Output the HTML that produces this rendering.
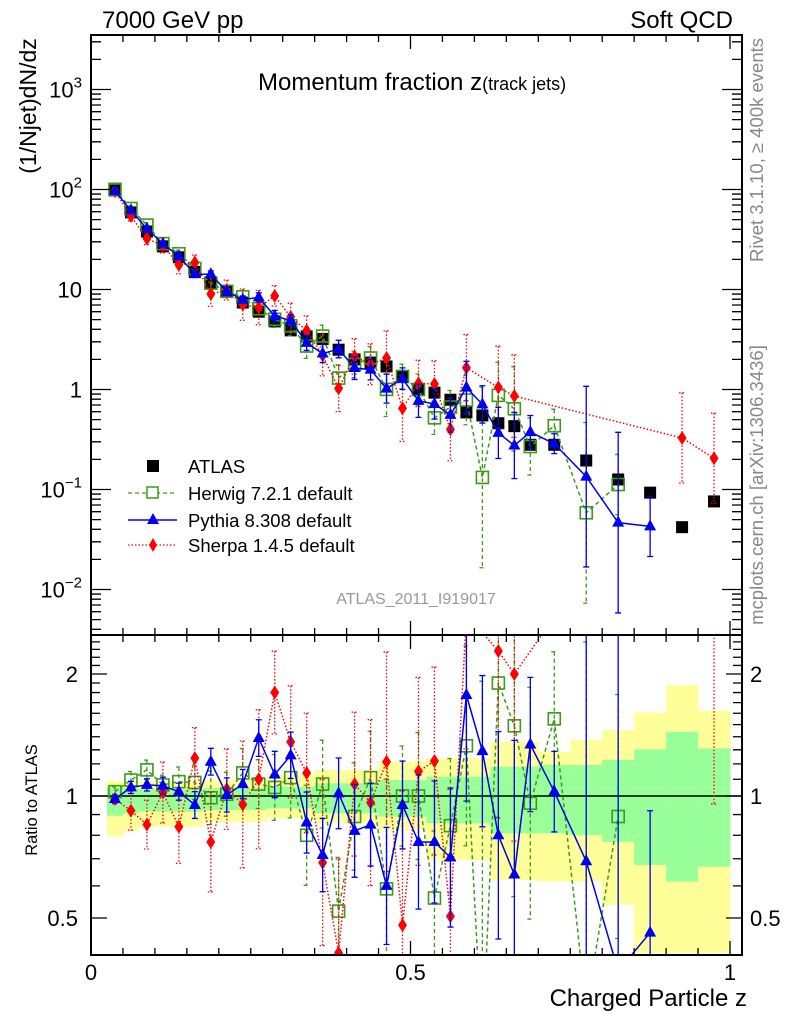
<!DOCTYPE html>
<html><head><meta charset="utf-8"><style>
html,body{margin:0;padding:0;background:#fff;overflow:hidden;width:786px;height:1024px;}
svg{display:block;font-family:"Liberation Sans",Arial,sans-serif;}
</style></head><body>
<svg id="chart" width="786" height="1024" viewBox="0 0 786 1024">
<defs>
<clipPath id="cm"><rect x="91" y="35" width="651" height="600"/></clipPath>
<clipPath id="cr"><rect x="91" y="635" width="651" height="320"/></clipPath>
</defs>
<g id="bands" clip-path="url(#cr)"></g>
<g id="ratio" clip-path="url(#cr)"></g>
<g id="main" clip-path="url(#cm)"></g>
<g id="axes"></g>
<text x="102" y="28" font-size="24">7000 GeV pp</text>
<text x="733" y="28" font-size="24" text-anchor="end">Soft QCD</text>
<text x="258" y="90" font-size="24">Momentum fraction <tspan font-size="24">z</tspan><tspan font-size="18">(track jets)</tspan></text>
<text x="416" y="604" font-size="16" fill="#999" text-anchor="middle">ATLAS_2011_I919017</text>
<text transform="translate(763,150) rotate(-90)" font-size="18.5" fill="#888" text-anchor="middle">Rivet 3.1.10, ≥ 400k events</text>
<text transform="translate(763,485) rotate(-90)" font-size="18.5" fill="#888" text-anchor="middle">mcplots.cern.ch [arXiv:1306.3436]</text>
<text transform="translate(36,106) rotate(-90)" font-size="23" text-anchor="middle">(1/Njet)dN/dz</text>
<text transform="translate(37,800) rotate(-90)" font-size="16.5" text-anchor="middle">Ratio to ATLAS</text>
<text x="747" y="1006" font-size="24" text-anchor="end">Charged Particle z</text>
<g id="legend">
<rect x="147" y="460" width="12" height="12" fill="#000"/>
<text x="188" y="473" font-size="18.5">ATLAS</text>
<line x1="128" y1="493" x2="177" y2="493" stroke="#3a9a1a" stroke-width="1.3" stroke-dasharray="4,3"/>
<rect x="147" y="487" width="11" height="11" fill="#fff" stroke="#3a9a1a" stroke-width="1.5"/>
<text x="188" y="500" font-size="18.5">Herwig 7.2.1 default</text>
<line x1="128" y1="520" x2="177" y2="520" stroke="#0000ee" stroke-width="1.5"/>
<polygon points="153,513 159,524 147,524" fill="#0000ee"/>
<text x="188" y="527" font-size="18.5">Pythia 8.308 default</text>
<line x1="128" y1="545" x2="177" y2="545" stroke="#ff0000" stroke-width="1.3" stroke-dasharray="1.5,2"/>
<polygon points="153,538 157,545 153,552 149,545" fill="#ff0000"/>
<text x="188" y="552" font-size="18.5">Sherpa 1.4.5 default</text>
</g>
</svg>
<script>
const zCenters=[0.0375,0.0625,0.0875,0.1125,0.1375,0.1625,0.1875,0.2125,0.2375,0.2625,0.2875,0.3125,0.3375,0.3625,0.3875,0.4125,0.4375,0.4625,0.4875,0.5125,0.5375,0.5625,0.5875,0.6125,0.6375,0.6625,0.6875,0.725,0.775,0.825,0.875,0.925,0.975];
const zHalfWidth=[0.0125,0.0125,0.0125,0.0125,0.0125,0.0125,0.0125,0.0125,0.0125,0.0125,0.0125,0.0125,0.0125,0.0125,0.0125,0.0125,0.0125,0.0125,0.0125,0.0125,0.0125,0.0125,0.0125,0.0125,0.0125,0.0125,0.0125,0.025,0.025,0.025,0.025,0.025,0.025];
const atlasValues=[98,59,38,27,21,15,11.7,9.5,7.4,6.0,4.8,3.9,3.4,3.2,2.5,2.0,1.86,1.7,1.35,1.0,0.93,0.79,0.59,0.55,0.46,0.43,0.28,0.28,0.195,0.126,0.093,0.042,0.076];
const herwigRatio=[1.025,1.095,1.16,1.065,1.085,1.08,0.99,1.01,1.14,1.07,1.05,1.11,0.8,1.07,0.52,0.89,1.11,0.59,1.0,1.0,0.56,0.845,1.33,0.24,1.9,1.49,0.96,1.55,0.30,0.89,null,null,null];
const pythiaRatio=[0.983,1.05,1.065,1.06,1.025,0.95,1.215,1.006,1.07,1.39,1.13,1.26,0.86,0.715,1.015,0.82,0.85,0.6,0.95,0.77,0.77,0.705,1.775,1.29,0.8,0.64,1.34,1.025,0.69,0.37,0.46,null,null];
const sherpaRatio=[0.983,0.92,0.85,1.02,0.84,1.24,0.77,1.04,0.953,1.1,1.8,1.36,1.14,0.685,0.41,1.07,0.963,1.215,0.48,1.15,1.22,0.505,2.8,null,2.28,2.0,null,null,null,null,null,7.8,2.7];
// errors in log2(ratio) units
const herwigErr=[0.04,0.07,0.08,0.08,0.12,0.14,0.22,0.18,0.2,0.2,0.27,0.33,0.41,0.36,0.44,0.44,0.38,0.9,0.41,0.52,0.55,0.55,0.82,3,1.1,1.4,0.95,0.55,3,1.0,0,0,0];
const pythiaErr=[0.03,0.05,0.05,0.07,0.07,0.11,0.11,0.14,0.12,0.15,0.19,0.19,0.25,0.3,0.29,0.38,0.34,0.48,0.36,0.55,0.5,0.57,0.87,0.62,0.85,1.1,0.55,0.33,3,3,1.0,0,0];
const sherpaErr=[0.04,0.16,0.2,0.25,0.3,0.25,0.41,0.33,0.52,0.57,0.34,0.46,0.49,0.68,0.77,0.59,0.68,0.9,1.1,0.77,0.77,1.04,1.1,0,1.37,1.37,0,0,0,0,0,1.5,1.5];
const yellowUp=[1.089,1.089,1.085,1.085,1.085,1.085,1.095,1.095,1.095,1.095,1.127,1.127,1.127,1.159,1.159,1.159,1.159,1.215,1.215,1.215,1.239,1.239,1.239,1.239,1.362,1.362,1.362,1.286,1.375,1.455,1.605,1.878,1.623];
const yellowDn=[0.794,0.82,0.84,0.84,0.84,0.84,0.864,0.864,0.864,0.864,0.881,0.881,0.881,0.856,0.856,0.856,0.856,0.824,0.824,0.824,0.695,0.695,0.695,0.695,0.62,0.62,0.62,0.615,0.615,0.538,0.41,0.41,0.41];
const greenUp=[1.05,1.045,1.039,1.039,1.039,1.039,1.045,1.045,1.045,1.045,1.054,1.054,1.054,1.075,1.075,1.075,1.075,1.095,1.095,1.095,1.116,1.116,1.116,1.116,1.181,1.181,1.181,1.193,1.193,1.227,1.304,1.441,1.311];
const greenDn=[0.894,0.906,0.915,0.915,0.915,0.915,0.923,0.923,0.923,0.923,0.932,0.932,0.932,0.906,0.906,0.906,0.906,0.889,0.889,0.889,0.856,0.856,0.856,0.856,0.809,0.809,0.809,0.809,0.8,0.771,0.676,0.615,0.669];
const mainTickLabels=[["10","3"],["10","2"],["10",""],["1",""],["10","−1"],["10","−2"]];
const mainTickExps=[3,2,1,0,-1,-2];
const ratioTickLabels=["0.5","1","2"];
const ratioTickValues=[0.5,1,2];
const xTickLabels=["0","0.5","1"];
const xTickValues=[0,0.5,1];

const NS="http://www.w3.org/2000/svg";
const X=z=>91+639*z;
const YM=v=>389.5-100*Math.log10(v);
const YR=r=>796-122*Math.log2(r);
function mk(parent,tag,attrs){const e=document.createElementNS(NS,tag);for(const k in attrs)e.setAttribute(k,attrs[k]);document.getElementById(parent).appendChild(e);return e;}

zCenters.forEach((z,i)=>{
  const x0=X(z-zHalfWidth[i]),w=X(z+zHalfWidth[i])-x0;
  const y=mk('bands','rect',{x:x0,y:YR(yellowUp[i]),width:w+0.5,height:YR(yellowDn[i])-YR(yellowUp[i]),fill:'#ffff99'});
  
  
  const g=mk('bands','rect',{x:x0,y:YR(greenUp[i]),width:w+0.5,height:YR(greenDn[i])-YR(greenUp[i]),fill:'#99ff99'});
  
  
});
const ref=mk('ratio','line',{x1:91,x2:742,y1:YR(1),y2:YR(1),stroke:'#000','stroke-width':1.5});



const series=[
 {name:'herwig',ratio:herwigRatio,err:herwigErr,color:'#3a9a1a',dash:'4,3',marker:'sq'},
 {name:'sherpa',ratio:sherpaRatio,err:sherpaErr,color:'#ff0000',dash:'1.5,2',marker:'di'},
 {name:'pythia',ratio:pythiaRatio,err:pythiaErr,color:'#0000ee',dash:'',marker:'tri'}
];
function marker(g,m,x,y,c,nm){
  let e;
  if(m==='sq')e=mk(g,'rect',{x:x-6,y:y-6,width:12,height:12,fill:'none',stroke:c,'stroke-width':1.6});
  else if(m==='tri')e=mk(g,'polygon',{points:`${x},${y-7} ${x+6},${y+4} ${x-6},${y+4}`,fill:c});
  else e=mk(g,'polygon',{points:`${x},${y-7} ${x+4.5},${y} ${x},${y+7} ${x-4.5},${y}`,fill:c});
  
  
}
function drawSeries(g,s,valFn,yFn){
  let pts=[];
  s.ratio.forEach((r,i)=>{if(r===null)return;const v=valFn(r,i);pts.push([X(zCenters[i]),yFn(v),v,i]);});
  const pl=mk(g,'polyline',{points:pts.map(p=>p[0]+','+p[1]).join(' '),fill:'none',stroke:s.color,'stroke-width':1.5,'stroke-dasharray':s.dash});
  
  
  pts.forEach(p=>{
    const e=s.err[p[3]];if(e>0){
      const y1=yFn(p[2]*Math.pow(2,e)),y2=yFn(p[2]/Math.pow(2,e));
      const eb=mk(g,'path',{d:`M${p[0]},${y1}V${y2}M${p[0]-3},${y1}h6M${p[0]-3},${y2}h6`,stroke:s.color,'stroke-width':1.3,'stroke-dasharray':s.dash,fill:'none'});
      
      
    }
  });
  pts.forEach(p=>marker(g,s.marker,p[0],p[1],s.color,s.name+'-point'));
}
atlasValues.forEach((v,i)=>{
  const r=mk('main','rect',{x:X(zCenters[i])-6,y:YM(v)-6,width:12,height:12,fill:'#000'});
  
  
});
series.forEach(s=>drawSeries('main',s,(r,i)=>r*atlasValues[i],YM));
series.forEach(s=>drawSeries('ratio',s,(r,i)=>r,YR));

const fr1=mk('axes','rect',{x:91,y:35,width:651,height:600,fill:'none',stroke:'#000','stroke-width':2});


const fr2=mk('axes','rect',{x:91,y:635,width:651,height:320,fill:'none',stroke:'#000','stroke-width':2});


let d='';
for(let e=-3;e<=3;e++)for(let m=1;m<10;m++){const y=YM(m*Math.pow(10,e));if(y<36||y>634)continue;const L=m===1?20:10;d+=`M91,${y}h${L}M742,${y}h${-L}`;}
for(let r=0.4;r<=2.55;r+=0.1){const y=YR(r);if(y<636||y>954)continue;d+=`M91,${y}h9M742,${y}h-9`;}
ratioTickValues.forEach(r=>{const y=YR(r);d+=`M91,${y}h16M742,${y}h-16`;});
for(let k=0;k<=20;k++){const x=X(k*0.05);if(x>741)continue;const L=k%10===0?14:7;d+=`M${x},35v${L}M${x},635v${-L}M${x},635v${L}M${x},955v${-L}`;}
const tk=mk('axes','path',{d:d,stroke:'#000','stroke-width':1.3,fill:'none'});


mainTickExps.forEach((e,i)=>{
  const t=mk('axes','text',{x:82,y:YM(Math.pow(10,e))+8,'font-size':22,'text-anchor':'end'});
  
  
  const lab=mainTickLabels[i];
  t.textContent=lab[0];
  if(lab[1]){const s=document.createElementNS(NS,'tspan');s.setAttribute('dy','-10');s.setAttribute('font-size','15');s.textContent=lab[1];t.appendChild(s);}
});
ratioTickValues.forEach((r,i)=>{
  const a=mk('axes','text',{x:78,y:YR(r)+8,'font-size':22,'text-anchor':'end'});a.textContent=ratioTickLabels[i];
  
  
  const b=mk('axes','text',{x:750,y:YR(r)+8,'font-size':22});b.textContent=ratioTickLabels[i];
  
  
});
xTickValues.forEach((z,i)=>{
  const t=mk('axes','text',{x:X(z),y:980,'font-size':22,'text-anchor':'middle'});t.textContent=xTickLabels[i];
  
  
});
</script>
</body></html>
